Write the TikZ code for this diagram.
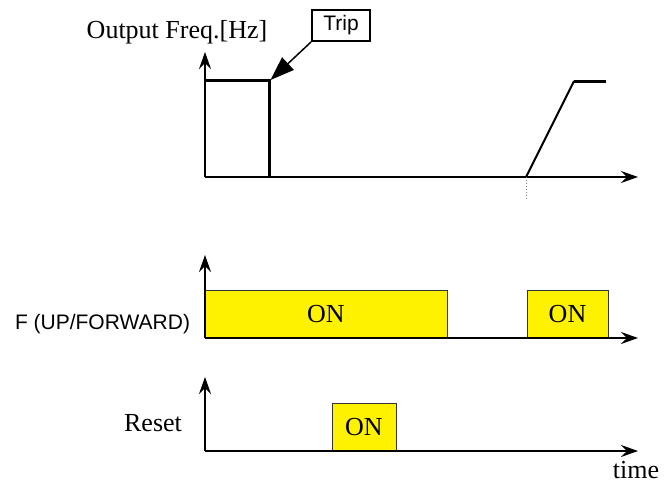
\documentclass[tikz,border=0pt]{standalone}
\usepackage{fontspec}
\setmainfont{Liberation Serif}
\newfontfamily\sansf{Liberation Sans}
\usetikzlibrary{arrows.meta, positioning}
\newcommand{\serifbig}{\fontsize{26}{31}\selectfont}
\newcommand{\sansmid}{\sansf\fontsize{21}{25}\selectfont}

\begin{document}
\begin{tikzpicture}[x=1pt, y=-1pt,
  ax/.style={-{Stealth[length=17pt, width=12pt, inset=6pt]}, line width=1.5pt},
  sig/.style={line width=3pt},
  onbox/.style={draw=black!80, line width=1pt, fill=yellow, font=\serifbig, inner sep=0pt},
  lbl/.style={font=\serifbig, anchor=base, inner sep=0pt},
  slbl/.style={font=\sansmid, anchor=base, inner sep=0pt},
  tag/.style={draw, line width=2pt, font=\sansmid, inner sep=0pt,
              minimum width=58pt, minimum height=31pt}]
  \useasboundingbox (0,0) rectangle (664,485);
  % output frequency
  \node[lbl] (freqlbl) at (177,38.5) {Output Freq.[Hz]};
  \draw[ax] (205,177) -- (205,52);
  \draw[ax] (205,177) -- (638,177);
  \draw[sig] (205,80) -- (269,80) -- (269,177);
  \draw[line width=2pt] (526,177) -- (574,81);
  \draw[sig] (574,81) -- (606,81);
  \draw[gray, dotted, line width=1pt] (526,177) -- (526,199);
  \node[tag] (trip) at (341,25.5) {Trip};
  \coordinate (tripend) at (270.5,80);
  \draw[-{Triangle[length=24pt, width=17pt]}, line width=1.5pt] (trip.south west) -- (tripend);
  % F (UP/FORWARD)
  \node[onbox, minimum width=242pt, minimum height=48pt] (fon1) at (326,314) {ON};
  \node[onbox, minimum width=81pt, minimum height=48pt] (fon2) at (567.5,314) {ON};
  \node[slbl] (flbl) at (102.5,329) {F (UP/FORWARD)};
  \draw[ax] (205,338) -- (205,255);
  \draw[ax] (205,338) -- (638,338);
  % reset
  \node[onbox, minimum width=64pt, minimum height=48pt] (ron) at (364,427) {ON};
  \node[lbl] (rlbl) at (153,431.5) {Reset};
  \draw[ax] (205,451) -- (205,377);
  \draw[ax] (205,451) -- (638,451);
  \node[lbl] (tlbl) at (636,478.5) {time};
\end{tikzpicture}
\end{document}
